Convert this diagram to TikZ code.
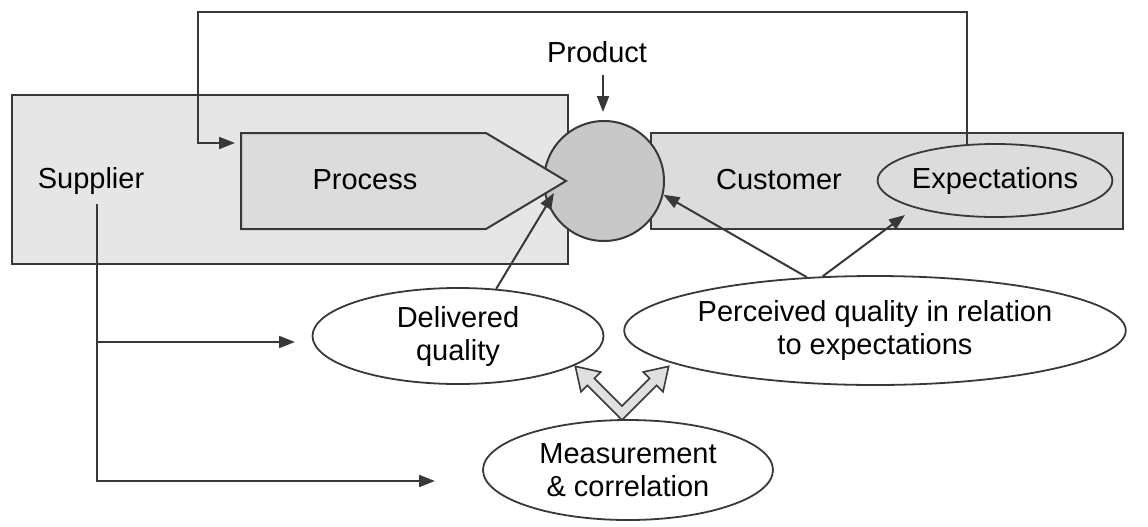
\documentclass[tikz,border=0pt]{standalone}
\usepackage{fontspec}
\setmainfont{Liberation Sans}
\usetikzlibrary{shapes.geometric,arrows.meta,calc}
\definecolor{edge}{HTML}{383838}
\definecolor{supfill}{HTML}{E6E6E6}
\definecolor{custfill}{HTML}{DCDCDC}
\definecolor{circfill}{HTML}{C8C8C8}
\definecolor{dblfill}{HTML}{E0E0E0}
\begin{document}
\begin{tikzpicture}[x=0.5pt,y=-0.5pt,
  every node/.style={font=\fontsize{14.5}{16.5}\selectfont, text=black},
  box/.style={draw=edge, line width=1.1pt, inner sep=0pt},
  oval/.style={ellipse, draw=edge, line width=0.9pt, fill=white, inner sep=0pt, align=center},
  conn/.style={draw=edge, line width=1pt, -{Triangle[length=8pt,width=6pt]}},
  plain/.style={draw=edge, line width=1pt}]
\useasboundingbox (0,0) rectangle (1148,526);

% big boxes
\node[box, fill=supfill, minimum width=278pt, minimum height=84.5pt] (sup) at (290,179.5) {};
\node[box, fill=custfill, minimum width=236pt, minimum height=48pt] (cust) at (887,181) {};
\node[circle, draw=edge, line width=1pt, fill=circfill, minimum size=60pt, inner sep=0pt] (prod) at (604,181) {};

% process pentagon
\draw[draw=edge, line width=1pt, fill=custfill] (241,133) -- (486,133) -- (566,181) -- (486,229) -- (241,229) -- cycle;
\node (proc) at (365,180) {Process};

\node[ellipse, draw=edge, line width=0.9pt, fill=custfill, inner sep=0pt, minimum width=117pt, minimum height=36.5pt] (expc) at (995,180.5) {Expectations};

\node (suptxt) at (91,181) {Supplier};
\node (custtxt) at (779,180) {Customer};
\node (plabel) at (597,52) {Product};

% ovals
\node[oval, minimum width=145.5pt, minimum height=48pt] (del) at (458,336) {Delivered\\quality};
\node[oval, minimum width=249.5pt, minimum height=54.5pt] (perc) at (875,330.5) {Perceived quality in relation\\to expectations};
\node[oval, minimum width=145pt, minimum height=50pt] (meas) at (628,470) {Measurement\\\& correlation};

% coordinates
\coordinate (fb0) at (967,145);
\coordinate (fbc) at (198,12);
\coordinate (procin) at (235,143);
\coordinate (p0) at (603,75);
\coordinate (p1) at (603,112);
\coordinate (s0) at (97,204);
\coordinate (s1) at (97,342);
\coordinate (e1) at (295,342);
\coordinate (e2) at (435,481);

% feedback loop
\draw[conn] (fb0) |- (fbc) |- (procin);
% product arrow
\draw[conn] (p0) -- (p1);
% supplier lines
\draw[conn] (s0) |- (e2);
\draw[conn] (s1) -- (e1);
% quality arrows
\draw[conn] (del.51) -- ($(prod.center)+(-50,12)$);
\draw[conn] (perc.142) -- (prod.-13);
\draw[conn] (perc.134) -- ($(expc.center)+(-90,34.5)$);

% double hollow arrow
\draw[draw=edge, line width=0.8pt, fill=dblfill, line join=miter]
  (622,420.07) -- (587.35,385.43) -- (580.99,391.79) -- (575.33,366.33)
  -- (600.79,371.99) -- (594.43,378.35) -- (622,405.93)
  -- (649.57,378.35) -- (643.21,371.99) -- (668.67,366.33)
  -- (663.01,391.79) -- (656.65,385.43) -- cycle;
\end{tikzpicture}
\end{document}
